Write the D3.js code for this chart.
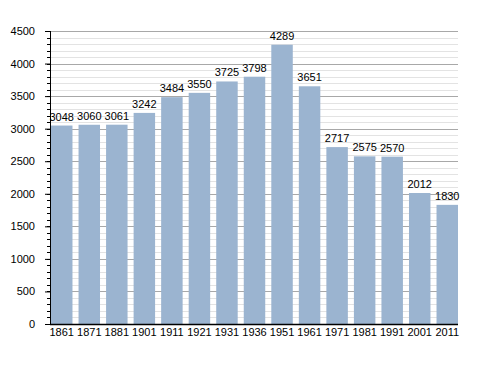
<!DOCTYPE html>
<html>
<head>
<meta charset="utf-8">
<script src="https://cdn.jsdelivr.net/npm/d3@7"></script>
<style>
body { margin: 0; background: #fff; }
text { font-family: "Liberation Sans", Arial, sans-serif; font-size: 11px; fill: #000; }
</style>
</head>
<body>
<div id="chart"></div>
<script>
var years = ["1861", "1871", "1881", "1901", "1911", "1921", "1931", "1936", "1951", "1961", "1971", "1981", "1991", "2001", "2011"];
var population = [3048, 3060, 3061, 3242, 3484, 3550, 3725, 3798, 4289, 3651, 2717, 2575, 2570, 2012, 1830];
var yTicks = [0, 500, 1000, 1500, 2000, 2500, 3000, 3500, 4000, 4500];

var margin = {top: 31, right: 30, bottom: 49, left: 50},
    width = 488 - margin.left - margin.right,
    height = 373 - margin.top - margin.bottom;

var svg = d3.select("#chart").append("svg")
    .attr("width", 488)
    .attr("height", 373)
  .append("g")
    .attr("transform", "translate(" + margin.left + "," + margin.top + ")");

var x = d3.scaleBand()
    .domain(years)
    .range([1, width])
    .paddingInner(0.22)
    .paddingOuter(0);

var y = d3.scaleLinear()
    .domain([0, 4500])
    .range([height, 0]);

// minor grid every 100
svg.append("g").selectAll("line")
    .data(d3.range(100, 4600, 100).filter(function(d) { return d % 500 !== 0; }))
  .enter().append("line")
    .attr("x1", 0).attr("x2", width)
    .attr("y1", function(d) { return Math.round(y(d)) + 0.5; })
    .attr("y2", function(d) { return Math.round(y(d)) + 0.5; })
    .attr("stroke", "#e3e3e3");

// major grid every 500
svg.append("g").selectAll("line")
    .data(yTicks.slice(1))
  .enter().append("line")
    .attr("x1", 0).attr("x2", width)
    .attr("y1", function(d) { return Math.round(y(d)) + 0.5; })
    .attr("y2", function(d) { return Math.round(y(d)) + 0.5; })
    .attr("stroke", "#a8a8a8");

svg.append("g").selectAll("rect")
    .data(population)
  .enter().append("rect")
    .attr("x", function(d, i) { return x(years[i]); })
    .attr("y", function(d) { return y(d); })
    .attr("width", x.bandwidth())
    .attr("height", function(d) { return height - y(d); })
    .attr("fill", "#9bb4d0");

svg.append("g").selectAll("text")
    .data(population)
  .enter().append("text")
    .attr("x", function(d, i) { return x(years[i]) + x.bandwidth() / 2; })
    .attr("y", function(d) { return y(d) - 5; })
    .attr("text-anchor", "middle")
    .text(function(d) { return d; });

// minor ticks
svg.append("g").selectAll("line")
    .data(d3.range(0, 4600, 100))
  .enter().append("line")
    .attr("x1", -3).attr("x2", 0)
    .attr("y1", function(d) { return Math.round(y(d)) + 0.5; })
    .attr("y2", function(d) { return Math.round(y(d)) + 0.5; })
    .attr("stroke", "#000");

var yAxis = d3.axisLeft(y)
    .tickValues(yTicks)
    .tickFormat(d3.format("d"))
    .tickSize(5)
    .tickPadding(10);

svg.append("g")
    .attr("class", "y axis")
    .call(yAxis)
    .call(function(g) { g.select(".domain").attr("d", "M0.5," + height + "V0"); })
    .selectAll("text").style("font-size", "11px").style("font-family", "Liberation Sans, Arial, sans-serif");

var xAxis = d3.axisBottom(x).tickSize(0).tickPadding(4);

svg.append("g")
    .attr("class", "x axis")
    .attr("transform", "translate(0," + height + ")")
    .call(xAxis)
    .call(function(g) { g.select(".domain").attr("d", "M0," + 0.5 + "H" + width).attr("stroke-width", 1.5); })
    .selectAll("text").style("font-size", "11px").style("font-family", "Liberation Sans, Arial, sans-serif");
</script>
</body>
</html>
